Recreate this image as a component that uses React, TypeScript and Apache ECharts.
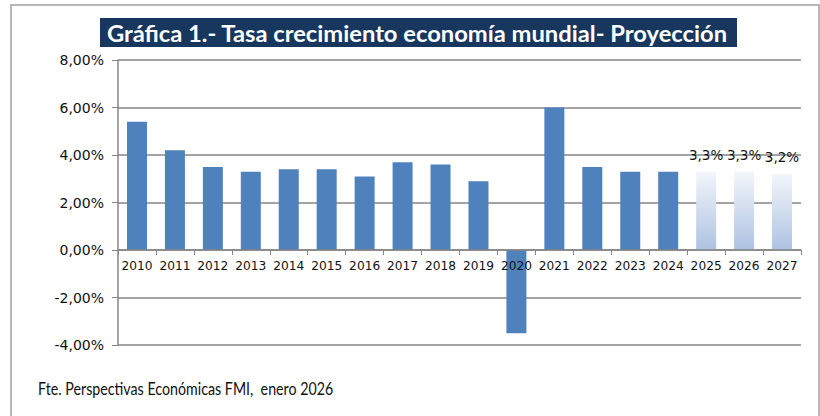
import React, { useEffect, useRef } from "react";
import * as echarts from "echarts";

const years = ["2010","2011","2012","2013","2014","2015","2016","2017","2018","2019","2020","2021","2022","2023","2024","2025","2026","2027"];
const growth = [5.4, 4.2, 3.5, 3.3, 3.4, 3.4, 3.1, 3.7, 3.6, 2.9, -3.5, 6.0, 3.5, 3.3, 3.3, 3.3, 3.3, 3.2];
const projectedFrom = 15; // index of first projected year
const yTicks = { min: -4, max: 8, interval: 2 };
const title = "Gráfica 1.- Tasa crecimiento economía mundial- Proyección";
const source = "Fte. Perspectivas Económicas FMI,  enero 2026";

export default function App() {
  const ref = useRef<HTMLDivElement>(null);
  useEffect(() => {
    if (!ref.current) return;
    const chart = echarts.init(ref.current, null, { renderer: "svg" });
    const data = growth.map((v, i) => {
      if (i < projectedFrom) return { value: v };
      return {
        value: v,
        itemStyle: {
          color: new echarts.graphic.LinearGradient(0, 0, 0, 1, [
            { offset: 0, color: "#f3f6fb" },
            { offset: 1, color: "#adc2e1" },
          ]),
        },
        label: {
          show: true,
          position: "top",
          distance: 10,
          formatter: (p: any) => p.value.toFixed(1).replace(".", ",") + "%",
          fontFamily: "DejaVu Sans",
          fontSize: 13.5,
          color: "#111",
        },
      };
    });
    const gridTop = 60;
    const gridBottom = 71;
    const gridH = 416 - gridTop - gridBottom;
    const zeroOffset = -(gridH * (0 - yTicks.min)) / (yTicks.max - yTicks.min);
    chart.setOption({
      animation: false,
      backgroundColor: "#fff",
      grid: { left: 118, right: 19, top: gridTop, bottom: gridBottom, containLabel: false },
      xAxis: {
        type: "category",
        data: years,
        position: "bottom",
        offset: zeroOffset,
        z: 10,
        axisLine: { onZero: false, lineStyle: { color: "#868686", width: 1.5 } },
        axisTick: { show: true, length: 5, inside: false, lineStyle: { color: "#868686" } },
        axisLabel: { fontFamily: "DejaVu Sans", fontSize: 12.2, color: "#111", margin: 10, interval: 0 },
      },
      yAxis: {
        type: "value",
        min: yTicks.min,
        max: yTicks.max,
        interval: yTicks.interval,
        axisLine: { show: true, lineStyle: { color: "#868686", width: 1.5 } },
        axisTick: { show: true, length: 6, lineStyle: { color: "#868686" } },
        splitLine: { show: true, lineStyle: { color: "#868686", width: 1.5 } },
        axisLabel: {
          fontFamily: "DejaVu Sans",
          fontSize: 14,
          color: "#111",
          margin: 14,
          formatter: (v: number) => v.toFixed(2).replace(".", ",") + "%",
        },
      },
      series: [
        {
          type: "bar",
          data,
          barWidth: 20,
          itemStyle: { color: "#4f81bd" },
        },
      ],
      graphic: [
        {
          type: "rect",
          shape: { x: 11, y: 5, width: 808, height: 430 },
          style: { fill: "none", stroke: "#a0a0a0", lineWidth: 1.5 },
          z: -1,
        },
        {
          type: "rect",
          shape: { x: 100, y: 18, width: 637, height: 29 },
          style: { fill: "#17375e" },
        },
        {
          type: "text",
          x: 417,
          y: 33,
          scaleX: 1.08,
          style: {
            text: title,
            fill: "#fff",
            font: "bold 22px Lato",
            textAlign: "center",
            textVerticalAlign: "middle",
          },
        },
        {
          type: "text",
          x: 38,
          y: 388,
          scaleX: 0.89,
          scaleY: 1.1,
          style: {
            text: source,
            fill: "#111",
            font: "16px Lato",
            textAlign: "left",
            textVerticalAlign: "middle",
          },
        },
      ],
    });
    return () => chart.dispose();
  }, []);
  return (
    <div
      ref={ref}
      style={{ position: "fixed", left: 0, top: 0, width: 820, height: 416 }}
    />
  );
}
